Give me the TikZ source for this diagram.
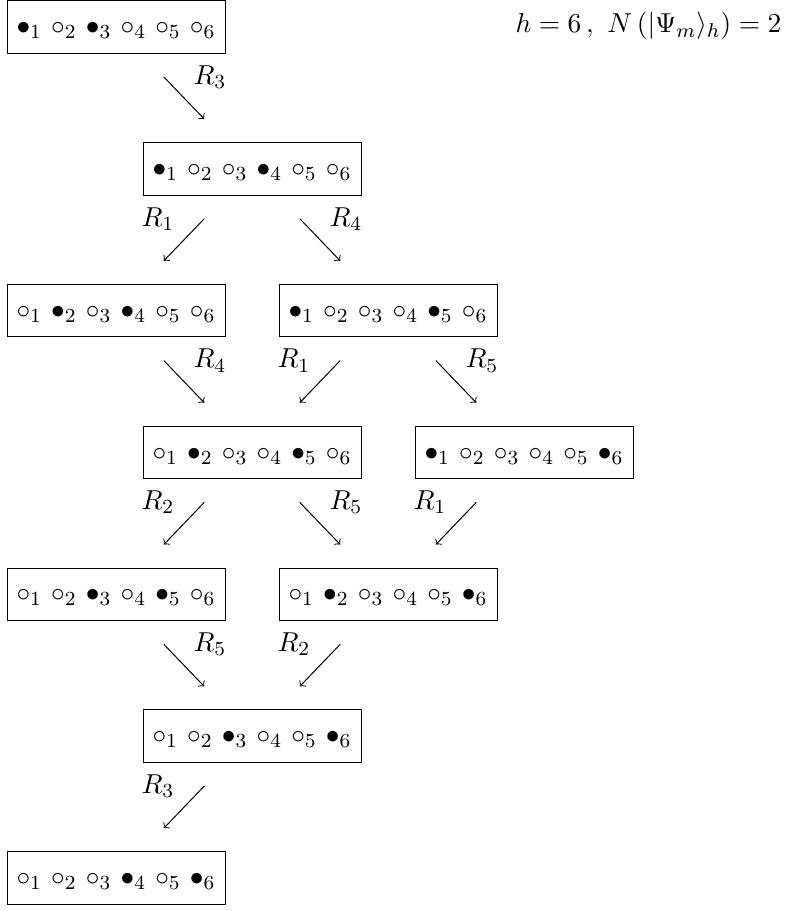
\documentclass[tikz,border=0pt]{standalone}
\newcommand{\occ}{\bullet}
\newcommand{\vac}{\circ}
\newcommand{\cfg}[6]{\ensuremath{{#1}_1\mkern6mu{#2}_2\mkern6mu{#3}_3\mkern6mu{#4}_4\mkern6mu{#5}_5\mkern6mu{#6}_6}}

\begin{document}
\begin{tikzpicture}[x=1.912cm,y=1.994cm,
    every node/.style={font=\fontsize{10.95}{13.6}\selectfont},
    conf/.style={draw,inner sep=0pt,minimum width=87.2pt,minimum height=21pt,text height=7.8pt,text depth=1.8pt},
    hop/.style={->,shorten <=12.8pt,shorten >=12.8pt},
    rlab/.style={midway,xshift=10.4pt,yshift=8.4pt},
    llab/.style={midway,xshift=-10.4pt,yshift=8.4pt}]
        \useasboundingbox (-1.631cm,0.38cm) rectangle (9.475cm,-12.427cm);
        % configurations, one row per step
        \node[conf] (c00) at (0,0) {\cfg\occ\vac\occ\vac\vac\vac};
        \node[conf] (c11) at (1,-1) {\cfg\occ\vac\vac\occ\vac\vac};
        \node[conf] (c20) at (0,-2) {\cfg\vac\occ\vac\occ\vac\vac};
        \node[conf] (c22) at (2,-2) {\cfg\occ\vac\vac\vac\occ\vac};
        \node[conf] (c31) at (1,-3) {\cfg\vac\occ\vac\vac\occ\vac};
        \node[conf] (c33) at (3,-3) {\cfg\occ\vac\vac\vac\vac\occ};
        \node[conf] (c40) at (0,-4) {\cfg\vac\vac\occ\vac\occ\vac};
        \node[conf] (c42) at (2,-4) {\cfg\vac\occ\vac\vac\vac\occ};
        \node[conf] (c51) at (1,-5) {\cfg\vac\vac\occ\vac\vac\occ};
        \node[conf] (c60) at (0,-6) {\cfg\vac\vac\vac\occ\vac\occ};
        \node[anchor=base west,inner xsep=0pt] (hdr) at (5.609cm,-0.084cm) {$h = 6\,,\ N\left(|\Psi_m\rangle_h\right) = 2$};
        % moves
        \draw[hop] (c00) -- node[rlab] {$R_3$} (c11);
        \draw[hop] (c11) -- node[llab] {$R_1$} (c20);
        \draw[hop] (c11) -- node[rlab] {$R_4$} (c22);
        \draw[hop] (c20) -- node[rlab] {$R_4$} (c31);
        \draw[hop] (c22) -- node[llab] {$R_1$} (c31);
        \draw[hop] (c22) -- node[rlab] {$R_5$} (c33);
        \draw[hop] (c31) -- node[llab] {$R_2$} (c40);
        \draw[hop] (c31) -- node[rlab] {$R_5$} (c42);
        \draw[hop] (c33) -- node[llab] {$R_1$} (c42);
        \draw[hop] (c40) -- node[rlab] {$R_5$} (c51);
        \draw[hop] (c42) -- node[llab] {$R_2$} (c51);
        \draw[hop] (c51) -- node[llab] {$R_3$} (c60);
\end{tikzpicture}
\end{document}
